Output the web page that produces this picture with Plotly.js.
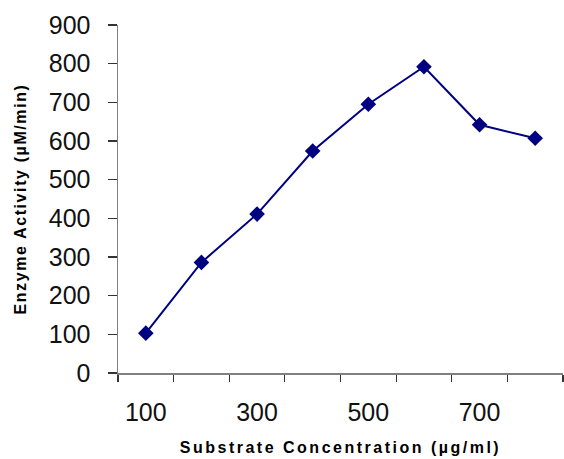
<!DOCTYPE html>
<html>
<head>
<meta charset="utf-8">
<script src="https://cdn.plot.ly/plotly-3.0.1.min.js"></script>
<style>
html, body { margin: 0; padding: 0; background: #fff; }
#chart { width: 564px; height: 459px; }
.xtitle { letter-spacing: 2.5px; }
.ytitle { letter-spacing: 1.6px; }
</style>
</head>
<body>
<div id="chart"></div>
<script>
// Substrate concentration (µg/ml)
const concentrations = [100, 200, 300, 400, 500, 600, 700, 800];
// Enzyme activity (µM/min)
const activity = [103, 286, 411, 574, 695, 792, 642, 607];
// Labelled x ticks
const xTickValues = [100, 300, 500, 700];
const xTickLabels = ['100', '300', '500', '700'];

const navy = '#000080';
const axisGray = '#808080';

const trace = {
  x: concentrations,
  y: activity,
  type: 'scatter',
  mode: 'lines+markers',
  line: { color: navy, width: 2 },
  marker: { symbol: 'diamond', size: 12, color: navy },
  hoverinfo: 'x+y'
};

const layout = {
  width: 564,
  height: 459,
  margin: { l: 118, r: 1, t: 25, b: 86, pad: 0 },
  paper_bgcolor: '#ffffff',
  plot_bgcolor: '#ffffff',
  showlegend: false,
  font: { family: 'Liberation Sans, Arial, sans-serif', color: '#000' },
  xaxis: {
    range: [50, 850],
    showgrid: false,
    zeroline: false,
    showline: true,
    linecolor: axisGray,
    linewidth: 1.5,
    tickmode: 'array',
    tickvals: xTickValues,
    ticktext: xTickLabels,
    ticks: '',
    ticklabelstandoff: 16,
    tickfont: { size: 25, family: 'Liberation Sans, Arial, sans-serif', color: '#111' },
    minor: { ticks: 'outside', tick0: 50, dtick: 100, ticklen: 7, tickwidth: 1.2, tickcolor: '#333333' },
    title: {
      text: 'Substrate Concentration (µg/ml)',
      font: { size: 16, family: 'Liberation Sans, Arial, sans-serif', color: '#000', weight: 'bold' },
      standoff: 17
    }
  },
  yaxis: {
    range: [0, 900],
    dtick: 100,
    tick0: 0,
    showgrid: false,
    zeroline: false,
    showline: true,
    linecolor: axisGray,
    linewidth: 1.5,
    ticks: 'outside',
    ticklen: 9,
    tickwidth: 1.2,
    tickcolor: '#333333',
    ticklabelstandoff: 12,
    tickfont: { size: 25, family: 'Liberation Sans, Arial, sans-serif', color: '#111' },
    title: {
      text: 'Enzyme Activity (µM/min)',
      font: { size: 16, family: 'Liberation Sans, Arial, sans-serif', color: '#000', weight: 'bold' },
      standoff: 18
    }
  }
};

Plotly.newPlot('chart', [trace], layout, { displayModeBar: false, staticPlot: true });
</script>
</body>
</html>
